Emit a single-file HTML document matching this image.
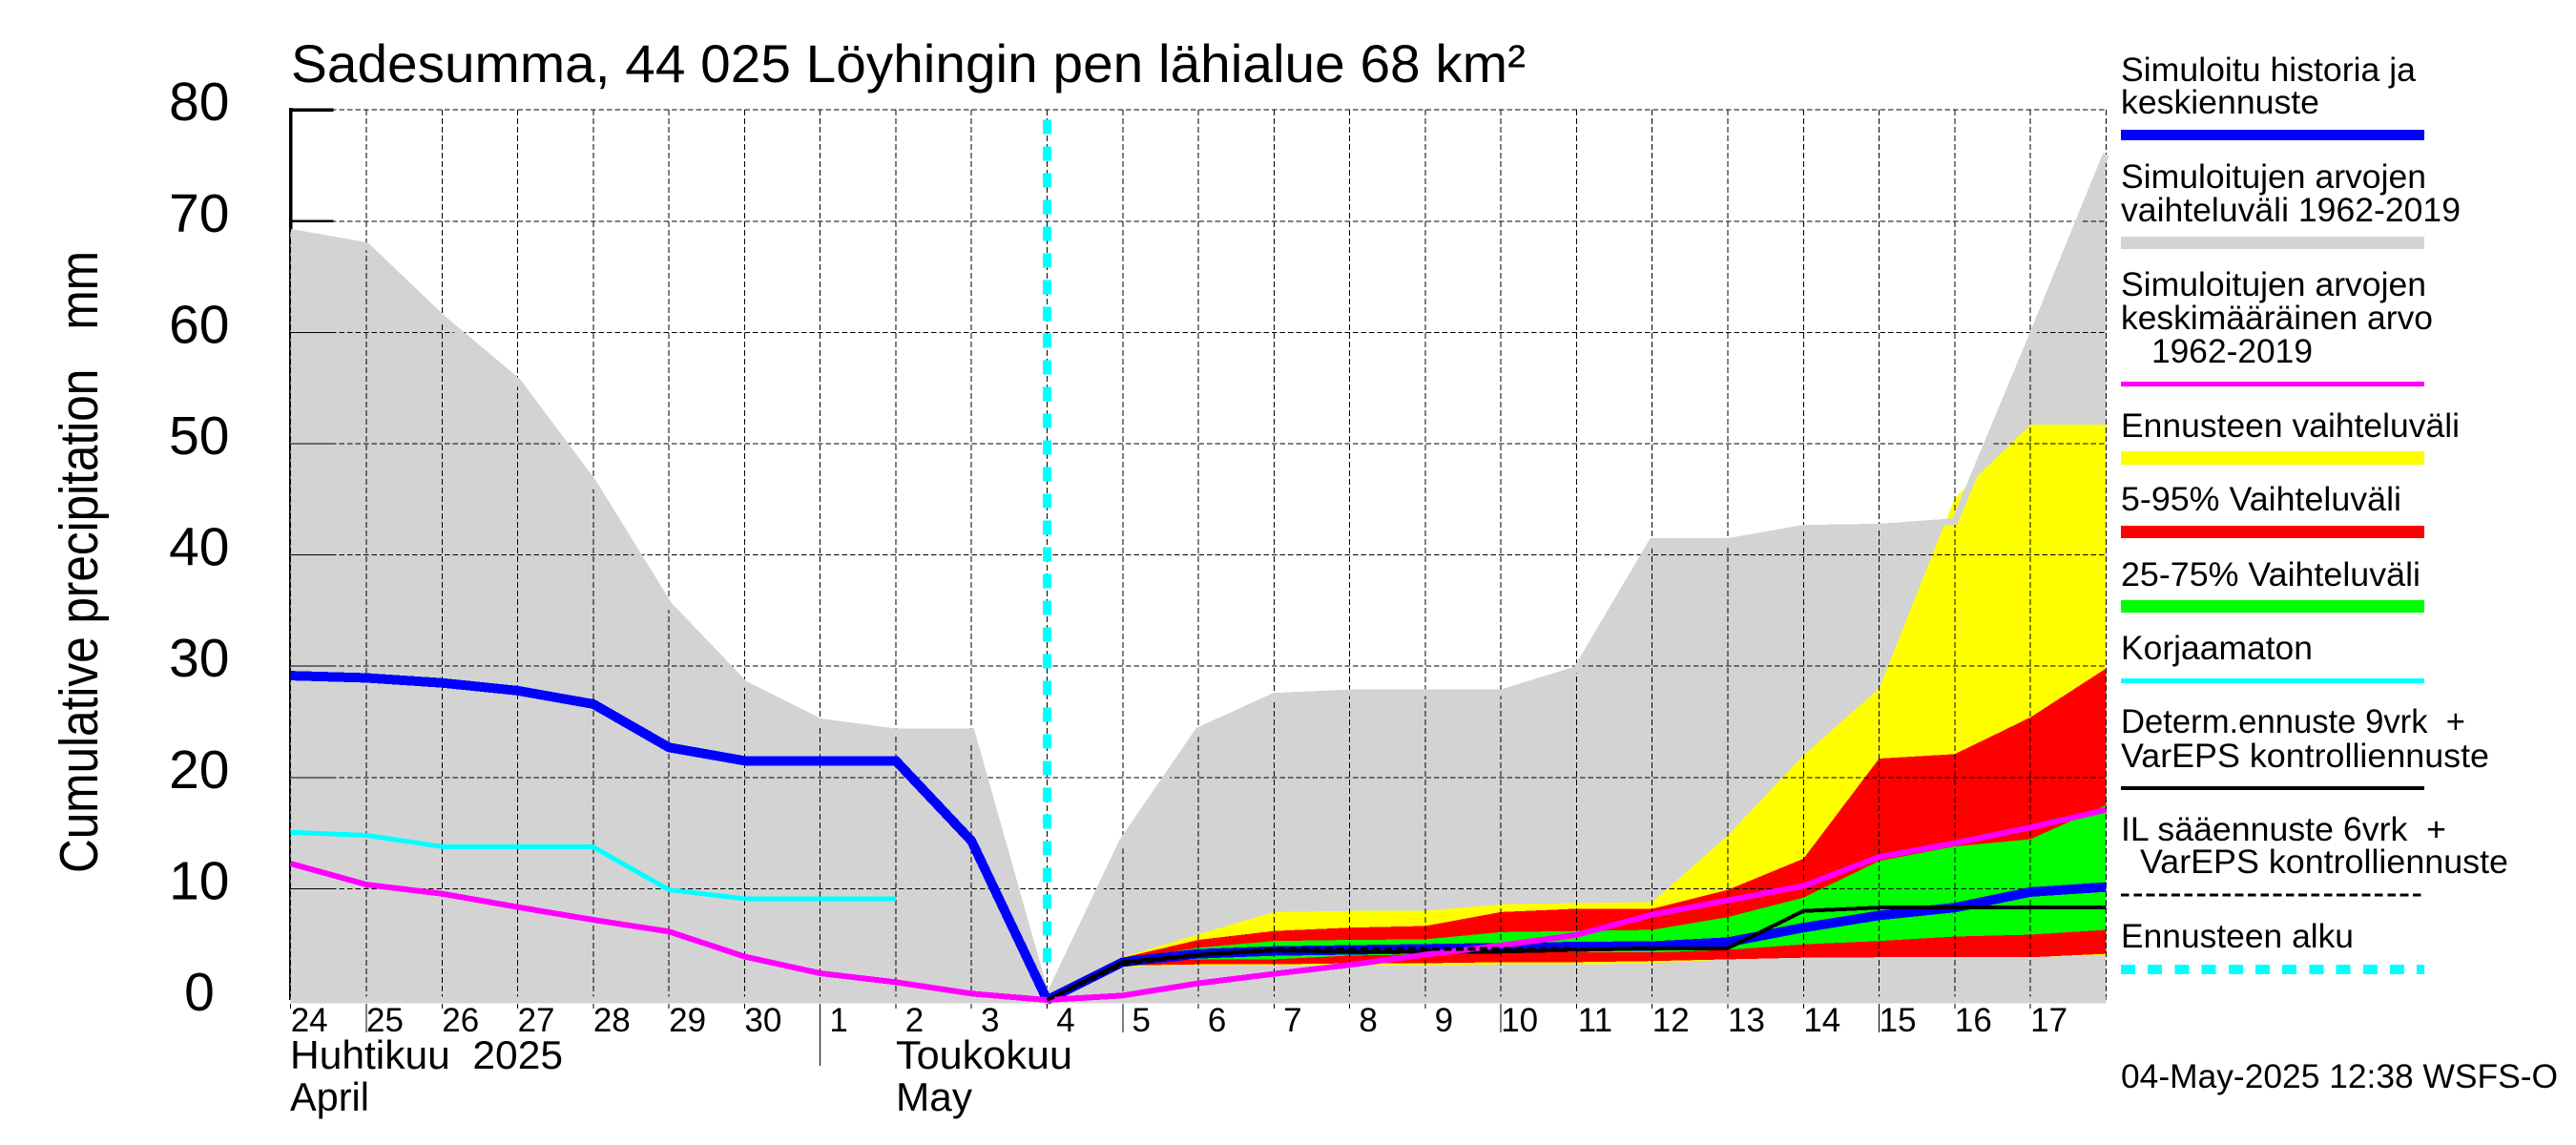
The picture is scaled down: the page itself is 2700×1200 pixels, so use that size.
<!DOCTYPE html>
<html lang="fi">
<head>
<meta charset="utf-8">
<title>Sadesumma, 44 025 Löyhingin pen lähialue</title>
<style>
html,body{margin:0;padding:0;background:#fff;}
svg{display:block;}
text{font-family:"Liberation Sans",Arial,sans-serif;fill:#000;white-space:pre;}
</style>
</head>
<body>
<svg id="chart" xmlns="http://www.w3.org/2000/svg" width="2700" height="1200" viewBox="0 0 2700 1200">
  <rect x="0" y="0" width="2700" height="1200" fill="#fff"/>
  <g id="plot"></g>

  <text x="305" y="86" font-size="56" textLength="1294" lengthAdjust="spacingAndGlyphs">Sadesumma, 44 025 Löyhingin pen lähialue 68 km²</text>
  <text transform="translate(102,915) rotate(-90)" x="0" y="0" font-size="57" textLength="652" lengthAdjust="spacingAndGlyphs">Cumulative precipitation   mm</text>

  <text x="304" y="1120" font-size="41.5" textLength="286" lengthAdjust="spacingAndGlyphs">Huhtikuu  2025</text>
  <text x="304" y="1164" font-size="41.5" textLength="83" lengthAdjust="spacingAndGlyphs">April</text>
  <text x="939" y="1120" font-size="41.5" textLength="185" lengthAdjust="spacingAndGlyphs">Toukokuu</text>
  <text x="939" y="1164" font-size="41.5" textLength="80" lengthAdjust="spacingAndGlyphs">May</text>

  <g font-size="35.5">
    <g>
      <text x="2223" y="85" textLength="309" lengthAdjust="spacingAndGlyphs">Simuloitu historia ja</text>
      <text x="2223" y="119" textLength="208" lengthAdjust="spacingAndGlyphs">keskiennuste</text>
      <rect x="2223" y="136" width="318" height="11" fill="#0000ff" shape-rendering="crispEdges"/>
    </g>
    <g>
      <text x="2223" y="197" textLength="320" lengthAdjust="spacingAndGlyphs">Simuloitujen arvojen</text>
      <text x="2223" y="232" textLength="356" lengthAdjust="spacingAndGlyphs">vaihteluväli 1962-2019</text>
      <rect x="2223" y="248" width="318" height="13" fill="#d3d3d3" shape-rendering="crispEdges"/>
    </g>
    <g>
      <text x="2223" y="310" textLength="320" lengthAdjust="spacingAndGlyphs">Simuloitujen arvojen</text>
      <text x="2223" y="345" textLength="327" lengthAdjust="spacingAndGlyphs">keskimääräinen arvo</text>
      <text x="2255" y="380" textLength="169" lengthAdjust="spacingAndGlyphs">1962-2019</text>
      <rect x="2223" y="400" width="318" height="5" fill="#ff00ff" shape-rendering="crispEdges"/>
    </g>
    <g>
      <text x="2223" y="458" textLength="355" lengthAdjust="spacingAndGlyphs">Ennusteen vaihteluväli</text>
      <rect x="2223" y="473" width="318" height="14" fill="#ffff00" shape-rendering="crispEdges"/>
    </g>
    <g>
      <text x="2223" y="535" textLength="294" lengthAdjust="spacingAndGlyphs">5-95% Vaihteluväli</text>
      <rect x="2223" y="551" width="318" height="13" fill="#ff0000" shape-rendering="crispEdges"/>
    </g>
    <g>
      <text x="2223" y="614" textLength="314" lengthAdjust="spacingAndGlyphs">25-75% Vaihteluväli</text>
      <rect x="2223" y="629" width="318" height="13" fill="#00ff00" shape-rendering="crispEdges"/>
    </g>
    <g>
      <text x="2223" y="691" textLength="201" lengthAdjust="spacingAndGlyphs">Korjaamaton</text>
      <rect x="2223" y="711" width="318" height="5" fill="#00ffff" shape-rendering="crispEdges"/>
    </g>
    <g>
      <text x="2223" y="768" textLength="361" lengthAdjust="spacingAndGlyphs">Determ.ennuste 9vrk  +</text>
      <text x="2223" y="804" textLength="386" lengthAdjust="spacingAndGlyphs">VarEPS kontrolliennuste</text>
      <rect x="2223" y="824" width="318" height="4" fill="#000" shape-rendering="crispEdges"/>
    </g>
    <g>
      <text x="2223" y="881" textLength="341" lengthAdjust="spacingAndGlyphs">IL sääennuste 6vrk  +</text>
      <text x="2243" y="915" textLength="386" lengthAdjust="spacingAndGlyphs">VarEPS kontrolliennuste</text>
      <line x1="2223" y1="938" x2="2541" y2="938" stroke="#000" stroke-width="3" stroke-dasharray="8.7 4.6" shape-rendering="crispEdges"/>
    </g>
    <g>
      <text x="2223" y="993" textLength="244" lengthAdjust="spacingAndGlyphs">Ennusteen alku</text>
      <line x1="2223" y1="1016" x2="2541" y2="1016" stroke="#00ffff" stroke-width="10" stroke-dasharray="15 13.2" shape-rendering="crispEdges"/>
    </g>
  </g>
  <text x="2223" y="1140" font-size="35.5" textLength="458" lengthAdjust="spacingAndGlyphs">04-May-2025 12:38 WSFS-O</text>
</svg>

<script>
// Category and tick data
var dayLabels = [24,25,26,27,28,29,30,1,2,3,4,5,6,7,8,9,10,11,12,13,14,15,16,17];
var longTickDays = [25,5,10,15];
var yTickLabels = [0,10,20,30,40,50,60,70,80];
var thickTickLabels = [70,80];
var monthDividerIndex = 7;
var forecastStartIndex = 10;
var forecastMarkerValues = [79.1,2.3];

// Climatology, index 0 = 24 April
var grayUpper = [69.0,67.8,61.3,55.6,46.5,35.5,28.4,25.0,24.1,24.1,0,14.3,24.2,27.3,27.6,27.6,27.6,29.7,41.2,41.2,42.4,42.5,43.0,59.3,76.0];
var grayLower = [0,0,0,0,0,0,0,0,0,0,0,0,0,0,0,0,0,0,0,0,0,0,0,0,0];
var meanValues = [12.26,10.37,9.55,8.35,7.2,6.15,3.9,2.4,1.6,0.57,0,0.4,1.5,2.35,3.15,4.07,4.9,5.85,7.67,8.95,10.25,12.85,14.1,15.5,17.1];

// History, index 0 = 24 April
var blueHistory = [29.15,28.95,28.5,27.8,26.6,22.7,21.5,21.5,21.5,14.3,0];
var cyanHistory = [15.07,14.8,13.78,13.75,13.75,9.9,9.1,9.1,9.1];

// Forecast, index 0 = forecast start (4 May)
var yellowUpper = [0,3.85,5.9,7.9,8.0,8.0,8.6,8.7,8.8,14.8,22.0,28.0,45.1,51.7,51.7];
var yellowLower = [0,3.0,3.1,3.1,3.1,3.1,3.2,3.2,3.3,3.65,3.8,3.84,3.84,3.87,4.0];
var redUpper = [0,3.8,5.4,6.2,6.5,6.65,7.9,8.2,8.2,9.9,12.7,21.7,22.1,25.4,29.8];
var redLower = [0,3.1,3.2,3.2,3.3,3.3,3.4,3.4,3.5,3.65,3.8,3.84,3.84,3.84,4.15];
var greenUpper = [0,3.6,4.7,5.3,5.4,5.45,6.1,6.2,6.3,7.45,9.2,12.5,13.8,14.45,17.5];
var greenLower = [0,3.3,3.65,3.65,3.99,4.1,4.27,4.3,4.27,4.5,5.0,5.3,5.7,5.87,6.3];
var blueForecast = [0,3.4,4.15,4.4,4.5,4.6,4.7,4.8,4.85,5.2,6.5,7.6,8.3,9.7,10.15];
var blackDeterm = [0,3.4,4.05,4.45,4.35,4.35,4.35,4.5,4.65,4.65,8.0,8.3,8.3,8.3,8.3];
var blackIL = [0,3.2,4.05,4.6,4.6,4.6,4.6,4.6];

function xS(i){ return 304.7 + i * 79.28; }
function yS(v){ return 1048 - v * 11.66; }

var plot = document.getElementById('plot');
var NS = 'http://www.w3.org/2000/svg';

function make(tag, attrs){
  var el = document.createElementNS(NS, tag);
  for (var k in attrs) { el.setAttribute(k, attrs[k]); }
  plot.appendChild(el);
  return el;
}
function pts(values, offset){
  return values.map(function(v, i){ return xS(i + offset) + ',' + yS(v); });
}
function line(values, offset, color, width, dash){
  var a = {points: pts(values, offset).join(' '), fill: 'none', stroke: color, 'stroke-width': width, 'stroke-linejoin': 'miter', 'shape-rendering': 'crispEdges'};
  if (dash) { a['stroke-dasharray'] = dash; }
  return make('polyline', a);
}
function band(upper, lower, offset, color){
  var up = pts(upper, offset);
  var lo = pts(lower, offset).reverse();
  return make('polygon', {points: up.concat(lo).join(' '), fill: color, stroke: 'none', 'shape-rendering': 'crispEdges'});
}

// Axis line underneath the climatology band
var axis = make('line', {x1: xS(0), y1: yS(80) - 2, x2: xS(0), y2: yS(0), stroke: '#000', 'stroke-width': 3.5, 'shape-rendering': 'crispEdges'});



// Filled bands
var grayBand = band(grayUpper, grayLower, 0, '#d3d3d3');


var yellowBand = band(yellowUpper, yellowLower, forecastStartIndex, '#ffff00');


var redBand = band(redUpper, redLower, forecastStartIndex, '#ff0000');


var greenBand = band(greenUpper, greenLower, forecastStartIndex, '#00ff00');



// Grid
yTickLabels.forEach(function(t){
  if (t > 0) {
    var h = make('line', {x1: xS(0), y1: yS(t), x2: xS(24), y2: yS(t), stroke: '#000', 'stroke-width': 1, 'stroke-dasharray': '5.5 3', 'shape-rendering': 'crispEdges'});
    
    
  }
});
for (var g = 0; g <= dayLabels.length; g++) {
  var vl = make('line', {x1: xS(g), y1: yS(80), x2: xS(g), y2: yS(0), stroke: '#000', 'stroke-width': 1, 'stroke-dasharray': '6 3', 'shape-rendering': 'crispEdges'});
  
  
}

// Climatology outlines over the grid
var grayTop = line(grayUpper, 0, '#d3d3d3', 7);


var grayBottom = line(grayLower, 0, '#d3d3d3', 7);



// Y ticks
yTickLabels.forEach(function(t){
  if (t > 0) {
    var thick = thickTickLabels.indexOf(t) >= 0;
    var tk = make('line', {x1: xS(0) - 1.5, y1: yS(t), x2: xS(0) + 45, y2: yS(t), stroke: '#000', 'stroke-width': thick ? (t === 80 ? 3.5 : 2.5) : 1, 'shape-rendering': 'crispEdges'});
    
    
  }
  var lb = make('text', {x: t === 0 ? 209 : 240.5, y: yS(t) + 11, 'font-size': 57, 'text-anchor': t === 0 ? 'middle' : 'end'});
  
  
  lb.textContent = String(t);
});

// X ticks and day labels
dayLabels.forEach(function(d, i){
  var isLong = longTickDays.indexOf(d) >= 0;
  var tk = make('line', {x1: xS(i), y1: yS(0) + 4, x2: xS(i), y2: yS(0) + (isLong ? 34 : 9), stroke: '#000', 'stroke-width': 1, 'shape-rendering': 'crispEdges'});
  
  
  var lb = make('text', {x: xS(i) + 19.5, y: 1081, 'font-size': 35, 'text-anchor': 'middle'});
  
  
  lb.textContent = String(d);
});
var divider = make('line', {x1: xS(monthDividerIndex), y1: yS(0) + 4, x2: xS(monthDividerIndex), y2: 1117, stroke: '#000', 'stroke-width': 1, 'shape-rendering': 'crispEdges'});



// Forecast start marker
var marker = make('line', {x1: xS(forecastStartIndex), y1: yS(forecastMarkerValues[0]), x2: xS(forecastStartIndex), y2: yS(forecastMarkerValues[1]), stroke: '#00ffff', 'stroke-width': 9, 'stroke-dasharray': '15 13', 'shape-rendering': 'crispEdges'});



// Series lines
var cyanLine = line(cyanHistory, 0, '#00ffff', 5);


var blueHist = line(blueHistory, 0, '#0000ff', 10);


var blueFc = line(blueForecast, forecastStartIndex, '#0000ff', 10);


var blackLine = line(blackDeterm, forecastStartIndex, '#000', 4);


var meanLine = line(meanValues, 0, '#ff00ff', 6);


var ilLine = line(blackIL, forecastStartIndex, '#000', 4, '8 4.5');


</script>
</body>
</html>
